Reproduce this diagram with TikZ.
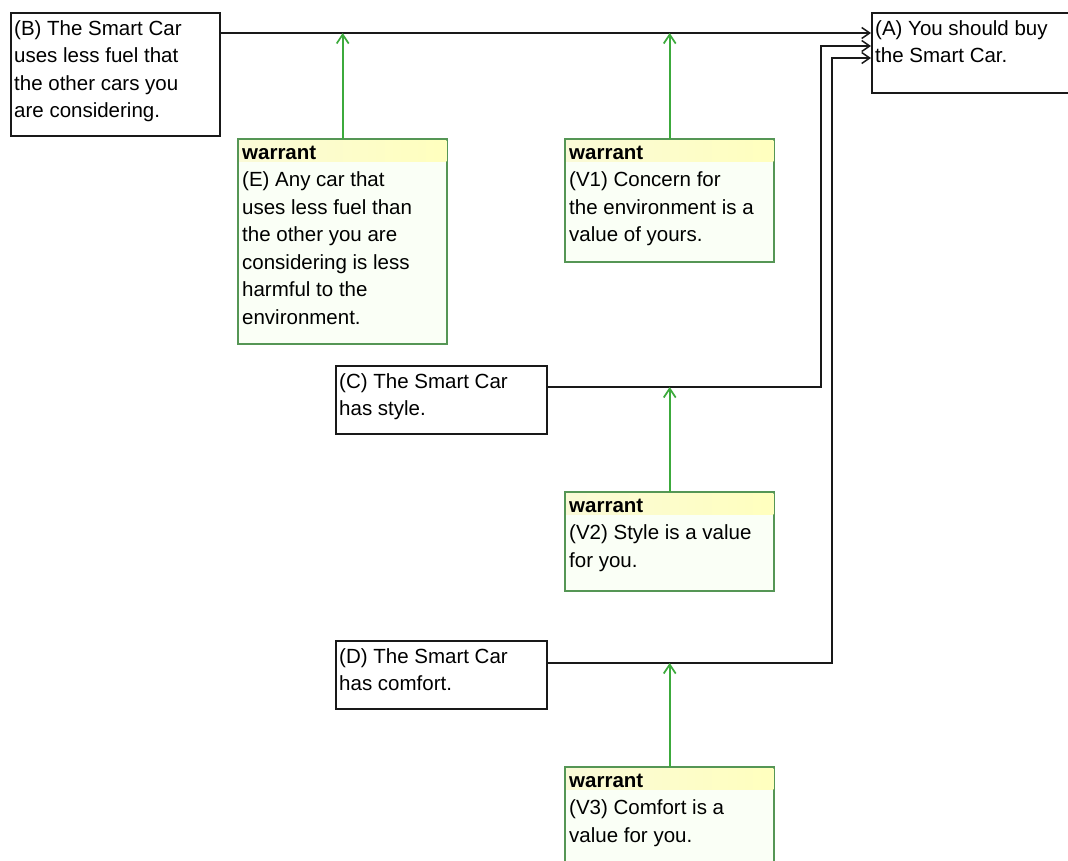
\documentclass[tikz,border=0pt]{standalone}
\usepackage{fontspec}
\setmainfont{Liberation Sans}
\usetikzlibrary{arrows.meta,calc}
\definecolor{lineblack}{RGB}{25,25,25}
\definecolor{wgreen}{RGB}{60,170,60}
\definecolor{wborder}{RGB}{85,150,85}
\definecolor{wfill}{RGB}{250,255,246}
\definecolor{hyelL}{RGB}{250,250,215}
\definecolor{hyelR}{RGB}{255,255,190}
\tikzset{
  claim/.style={draw=lineblack, line width=1.5pt, fill=white, anchor=north west, inner sep=0pt},
  wbox/.style={draw=wborder, line width=1.4pt, fill=wfill, anchor=north west, inner sep=0pt},
  txt/.style={anchor=north west, inner sep=0pt, align=left, font=\fontsize{20.5}{27.5}\selectfont, text=black},
  barrow/.style={draw=lineblack, line width=1.5pt, -{Straight Barb[length=8pt,width=11pt]}},
  garrow/.style={draw=wgreen, line width=1.7pt, -{Straight Barb[length=9pt,width=12pt]}},
}
\newcommand{\hdr}[1]{\shade[left color=hyelL, right color=hyelR] ($(#1.north west)+(1,-1)$) rectangle ($(#1.north east)+(-1,-22)$);}
\begin{document}
\begin{tikzpicture}[x=1pt,y=1pt]
\useasboundingbox[fill=white] (0,0) rectangle (1068,-860);
% claim boxes
\node[claim, minimum width=209pt, minimum height=123pt] (B) at (10,-12) {};
\node[claim, minimum width=205pt, minimum height=80pt] (A) at (871,-12) {};
\node[claim, minimum width=211pt, minimum height=68pt] (C) at (335,-365) {};
\node[claim, minimum width=211pt, minimum height=68pt] (D) at (335,-640) {};
% warrant boxes
\node[wbox, minimum width=208pt, minimum height=204pt] (E) at (238,-139) {};
\node[wbox, minimum width=208pt, minimum height=122pt] (V1) at (565,-139) {};
\node[wbox, minimum width=208pt, minimum height=98pt] (V2) at (565,-492) {};
\node[wbox, minimum width=208pt, minimum height=100pt] (V3) at (565,-767) {};
\hdr{E}\hdr{V1}\hdr{V2}\hdr{V3}
\draw[wborder, line width=1.4pt] (E.north west) rectangle (E.south east);
\draw[wborder, line width=1.4pt] (V1.north west) rectangle (V1.south east);
\draw[wborder, line width=1.4pt] (V2.north west) rectangle (V2.south east);
\draw[wborder, line width=1.4pt] (V3.north west) rectangle (V3.south east);
% texts
\node[txt] (tB) at ($(B.north west)+(4,-4)$) {\strut(B) The Smart Car\\uses less fuel that\\the other cars you\\are considering.};
\node[txt] (tA) at ($(A.north west)+(4,-4)$) {\strut(A) You should buy\\the Smart Car.};
\node[txt] (tC) at ($(C.north west)+(4,-4)$) {\strut(C) The Smart Car\\has style.};
\node[txt] (tD) at ($(D.north west)+(4,-4)$) {\strut(D) The Smart Car\\has comfort.};
\node[txt] (tE) at ($(E.north west)+(4,-1)$) {\strut\textbf{warrant}\\(E) Any car that\\uses less fuel than\\the other you are\\considering is less\\harmful to the\\environment.};
\node[txt] (tV1) at ($(V1.north west)+(4,-1)$) {\strut\textbf{warrant}\\(V1) Concern for\\the environment is a\\value of yours.};
\node[txt] (tV2) at ($(V2.north west)+(4,-1)$) {\strut\textbf{warrant}\\(V2) Style is a value\\for you.};
\node[txt] (tV3) at ($(V3.north west)+(4,-1)$) {\strut\textbf{warrant}\\(V3) Comfort is a\\value for you.};
% connectors to A
\coordinate (bS) at ([yshift=-21pt]B.north east);
\coordinate (aB) at ([yshift=-21pt]A.north west);
\coordinate (cS) at ([yshift=-22pt]C.north east);
\coordinate (cJ) at (821,-46);
\coordinate (aC) at ([yshift=-34pt]A.north west);
\coordinate (dS) at ([yshift=-23pt]D.north east);
\coordinate (dJ) at (832,-58);
\coordinate (aD) at ([yshift=-46pt]A.north west);
\draw[barrow] (bS) -- (aB);
\draw[barrow] (cS) -| (cJ) -- (aC);
\draw[barrow] (dS) -| (dJ) -- (aD);
% warrant arrows
\draw[garrow] (E.north) -- (E.north |- bS);
\draw[garrow] (V1.north) -- (V1.north |- bS);
\draw[garrow] (V2.north) -- (V2.north |- cS);
\draw[garrow] (V3.north) -- (V3.north |- dS);
\end{tikzpicture}
\end{document}
